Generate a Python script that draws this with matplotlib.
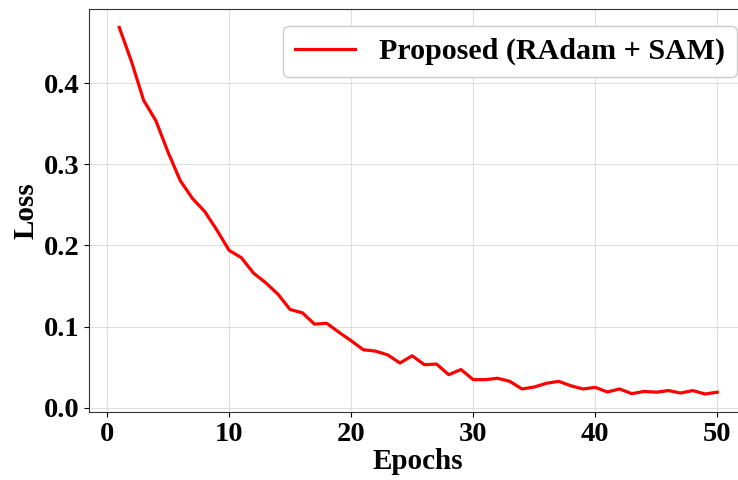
import matplotlib
matplotlib.use("Agg")
import matplotlib.pyplot as plt

epochs = list(range(1, 51))
loss = [0.469, 0.427, 0.379, 0.354, 0.315, 0.280, 0.258, 0.242, 0.219, 0.194,
        0.185, 0.166, 0.154, 0.140, 0.121, 0.117, 0.103, 0.104, 0.093, 0.0825,
        0.0714, 0.0697, 0.065, 0.055, 0.064, 0.053, 0.0537, 0.0406, 0.047, 0.0345,
        0.0345, 0.0362, 0.0324, 0.023, 0.0254, 0.030, 0.0324, 0.027, 0.023, 0.025,
        0.0193, 0.023, 0.0172, 0.020, 0.019, 0.021, 0.018, 0.021, 0.0168, 0.019]
series_label = "Proposed (RAdam + SAM)"
x_ticks = [0, 10, 20, 30, 40, 50]
y_ticks = [0.0, 0.1, 0.2, 0.3, 0.4]

plt.rcParams['font.family'] = ['Liberation Serif', 'DejaVu Serif']
plt.rcParams['font.weight'] = 'bold'

fig = plt.figure(figsize=(7.38, 4.80), dpi=100)
ax = fig.add_axes([0.1211, 0.141, 0.8913, 0.840])
ax.plot(epochs, loss, color='red', linewidth=2.3, label=series_label)
ax.set_xticks(x_ticks)
ax.set_yticks(y_ticks)
ax.set_yticklabels([f"{v:.1f}" for v in y_ticks])
ax.tick_params(labelsize=20.5)
for lab in ax.get_xticklabels() + ax.get_yticklabels():
    lab.set_fontweight('bold')
ax.set_xlabel("Epochs", fontsize=21, fontweight='bold', labelpad=1)
ax.set_ylabel("Loss", fontsize=21, fontweight='bold', labelpad=3)
ax.grid(True, color='#d9d9d9', linewidth=0.8, alpha=0.8)
for s in ax.spines.values():
    s.set_color('#333333')
leg = ax.legend(loc='upper left', bbox_to_anchor=(0.272, 0.995),
                prop={'weight': 'bold', 'size': 21.6}, framealpha=1)
leg.get_frame().set_edgecolor('#cccccc')
fig.savefig("out.png", dpi=100)
